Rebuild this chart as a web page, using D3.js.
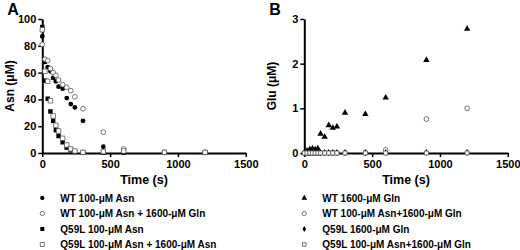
<!DOCTYPE html>
<html>
<head>
<meta charset="utf-8">
<script src="https://cdn.jsdelivr.net/npm/d3@7"></script>
<style>
  body { margin: 0; background: #fff; }
  svg text { font-family: "Liberation Sans", Arial, sans-serif; font-weight: bold; fill: #000; }
</style>
</head>
<body>
<div id="chart"></div>
<script>
/* Asn / Glu time courses, two panels */

const times = [0, 20, 40, 60, 80, 100, 120, 150, 180, 210, 240, 300, 450, 600, 900, 1200];

// panel A - Asn (uM)
const wtAsn = [87, 68, 64, 61, 56, 53.5, 49.5, 48, 41, 36.5, 34, 24, 4.7, 1.5, 0.5, 0.5];
const wtAsnGln = [81, 70, 69, 63, 60, 58, 54.5, 51, 49, 46.5, 42, 33, 15.5, 3, 0.5, 0.5];
const q59lAsn = [94, 54, 40.5, 31, 24, 17, 12.7, 8, 4, 2, 0.8, 0.3, 0.3, 0.3, 0.3, 0.3];
const q59lAsnAsn = [92, 61, 53.5, 39, 27.6, 20.7, 16.4, 11, 6, 3, 1.5, 0.5, 1, 1.5, 0.5, 0.5];

// panel B - Glu (uM)
const wtGln = [0, 0.05, 0.08, 0.1, 0.08, 0.1, 0.43, 0.36, 0.62, 0.56, 0.59, 0.9, 0.87, 1.24, 2.08, 2.78];
const wtAsnGlnB = [0, 0, 0, 0, 0, 0, 0, 0, 0, 0, 0, 0, 0, 0.07, 0.76, 1.0];
const q59lGln = [0, 0.01, 0.01, 0.01, 0.01, 0.01, 0.01, 0.01, 0.01, 0.01, 0.01, 0.01, 0.01, 0.01, 0.01, 0.01];
const q59lAsnGln = [0, 0, 0, 0, 0, 0, 0, 0, 0, 0, 0, 0, 0, 0, 0, 0];

const xTicks = [0, 500, 1000, 1500];
const yTicksA = [0, 20, 40, 60, 80, 100];
const yTicksB = [0, 1, 2, 3];

const width = 520, height = 250;

const svg = d3.select("#chart")
  .append("svg")
  .attr("width", width)
  .attr("height", height)
  .attr("viewBox", [0, 0, width, height]);

function panel(opt) {
  const x = d3.scaleLinear().domain([0, 1500]).range([opt.left, opt.left + 203.5]);
  const y = d3.scaleLinear().domain([0, opt.ymax]).range([153, 19]);

  const xAxis = svg.append("g")
    .attr("transform", `translate(0,${y(0)})`)
    .call(d3.axisBottom(x).tickValues(xTicks).tickFormat(d3.format("d"))
      .tickSize(4).tickSizeOuter(0).tickPadding(3));
  const yAxis = svg.append("g")
    .attr("transform", `translate(${x(0)},0)`)
    .call(d3.axisLeft(y).tickValues(opt.yticks).tickFormat(d3.format("d"))
      .tickSize(4).tickSizeOuter(0).tickPadding(2));

  for (const g of [xAxis, yAxis]) {
    g.select(".domain").attr("stroke", "#000").attr("stroke-width", 2);
    g.selectAll(".tick line").attr("stroke", "#000").attr("stroke-width", 1.5);
    g.selectAll(".tick text").style("font-size", "11px");
  }

  svg.append("text")
    .attr("x", (x(0) + x(1500)) / 2)
    .attr("y", 184)
    .attr("text-anchor", "middle")
    .style("font-size", "12.5px")
    .text("Time (s)");

  svg.append("text")
    .attr("transform", `translate(${opt.left - 28},86) rotate(-90)`)
    .attr("text-anchor", "middle")
    .style("font-size", "12px")
    .text(opt.ylabel);

  svg.append("text")
    .attr("x", opt.left - 35)
    .attr("y", 15)
    .style("font-size", "16px")
    .text(opt.letter);

  opt.series.forEach((s, i) => {
    const sym = d3.symbol().type(s.type).size(s.size);
    svg.append("g")
      .selectAll("path")
      .data(s.values)
      .join("path")
      .attr("transform", (d, j) => `translate(${x(times[j])},${y(d)})`)
      .attr("d", sym)
      .attr("fill", s.open ? "#fff" : "#000")
      .attr("stroke", s.open ? "#555" : "none")
      .attr("stroke-width", 0.8);

    // legend
    const ly = 198 + i * 15.5;
    svg.append("path")
      .attr("transform", `translate(${opt.left},${ly})`)
      .attr("d", d3.symbol().type(s.type).size(s.size * 0.8))
      .attr("fill", s.open ? "#fff" : "#000")
      .attr("stroke", s.open ? "#555" : "none")
      .attr("stroke-width", 0.8);
    svg.append("text")
      .attr("x", opt.left + 18)
      .attr("y", ly)
      .attr("dy", "0.35em")
      .style("font-size", "10px")
      .text(s.name);
  });
}

panel({
  left: 42.3, ymax: 100, yticks: yTicksA, ylabel: "Asn (\u03bcM)", letter: "A",
  series: [
    { name: "WT 100-\u03bcM Asn", values: wtAsn, type: d3.symbolCircle, size: 18, open: false },
    { name: "WT 100-\u03bcM Asn + 1600-\u03bcM Gln", values: wtAsnGln, type: d3.symbolCircle, size: 18, open: true },
    { name: "Q59L 100-\u03bcM Asn", values: q59lAsn, type: d3.symbolSquare, size: 20, open: false },
    { name: "Q59L 100-\u03bcM Asn + 1600-\u03bcM Asn", values: q59lAsnAsn, type: d3.symbolSquare, size: 20, open: true }
  ]
});

panel({
  left: 304.3, ymax: 3, yticks: yTicksB, ylabel: "Glu (\u03bcM)", letter: "B",
  series: [
    { name: "WT 1600-\u03bcM Gln", values: wtGln, type: d3.symbolTriangle, size: 18, open: false },
    { name: "WT 100-\u03bcM Asn+1600-\u03bcM Gln", values: wtAsnGlnB, type: d3.symbolCircle, size: 18, open: true },
    { name: "Q59L 1600-\u03bcM Gln", values: q59lGln, type: d3.symbolDiamond, size: 14, open: false },
    { name: "Q59L 100-\u03bcM Asn+1600-\u03bcM Gln", values: q59lAsnGln, type: d3.symbolSquare, size: 16, open: true }
  ]
});
</script>
</body>
</html>
